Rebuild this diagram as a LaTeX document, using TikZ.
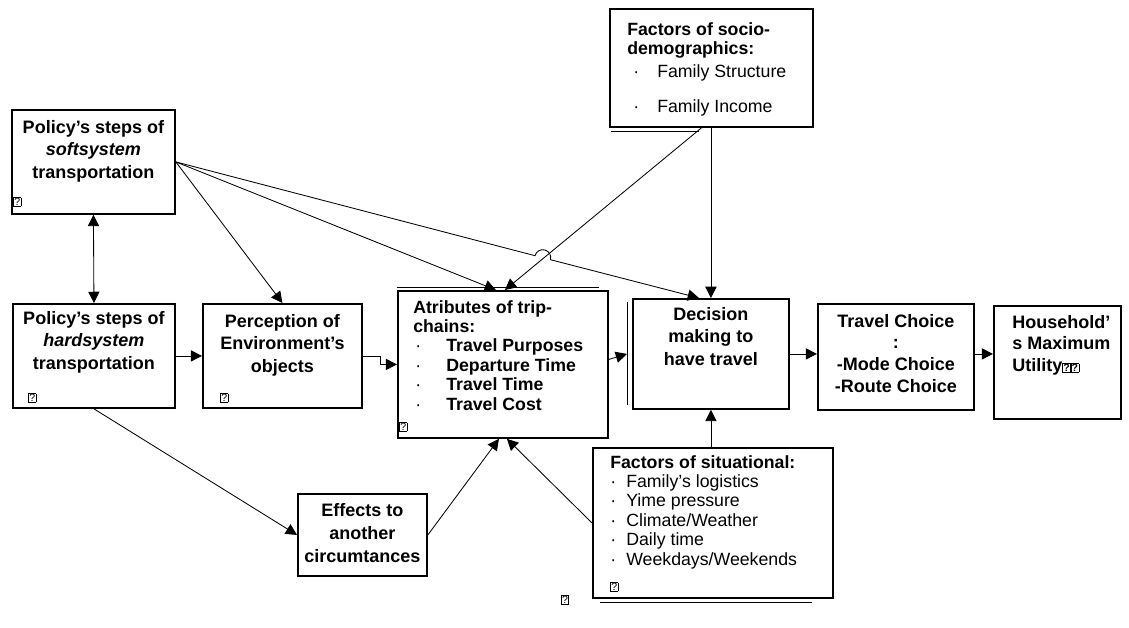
\documentclass[tikz,border=0pt]{standalone}
\usepackage{fontspec}
\setmainfont{Liberation Sans}
\usetikzlibrary{arrows.meta,calc,positioning}

\newcommand\tofu{{\fontsize{7.5}{8}\selectfont\setlength{\fboxsep}{0.3pt}\setlength{\fboxrule}{0.4pt}\fbox{?}}}
\newcommand\dotitem[3]{\hspace{#1}\makebox[#2][l]{\mdseries ·}#3}

\tikzset{
  box/.style={draw, line width=1.3pt, rectangle, anchor=north west, inner sep=0pt},
  heading/.style={font=\fontsize{12.8}{16}\selectfont\bfseries, align=center, anchor=north, inner sep=0pt},
  listing/.style={font=\fontsize{12.6}{13.8}\selectfont, align=left, anchor=north west, inner sep=0pt},
  tofumark/.style={anchor=south west, inner sep=0pt},
  arr/.style={line width=0.6pt, -{Triangle[length=8pt,width=8pt]}},
  shade/.style={line width=0.5pt}
}

\begin{document}
\begin{tikzpicture}[x=0.025cm, y=-0.025cm]
  \useasboundingbox (0,0) rectangle (1129,628);

  \node[box, minimum width=4.075cm, minimum height=2.6cm] (softsys) at (11,109) {};
  \node[box, minimum width=4.05cm, minimum height=2.6cm] (hardsys) at (12,303) {};
  \node[box, minimum width=3.975cm, minimum height=2.6cm] (percept) at (202,303) {};
  \node[box, minimum width=5.25cm, minimum height=3.675cm] (attrib) at (397,290) {};
  \node[box, minimum width=3.9cm, minimum height=2.75cm] (decision) at (632,298) {};
  \node[box, minimum width=3.9cm, minimum height=2.65cm] (choice) at (817,303) {};
  \node[box, minimum width=3.175cm, minimum height=2.825cm] (utility) at (993,305) {};
  \node[box, minimum width=5.075cm, minimum height=2.95cm] (socio) at (609,8) {};
  \node[box, minimum width=6cm, minimum height=3.75cm] (situ) at (592,447) {};
  \node[box, minimum width=3.225cm, minimum height=2.05cm] (effects) at (297,493) {};

  \node[heading] (softsys-text) at ($(softsys.north)+(0,11)$) {Policy’s steps of\\\textit{softsystem}\\transportation};
  \node[heading] (hardsys-text) at ($(hardsys.north)+(0,8)$) {Policy’s steps of\\\textit{hardsystem}\\transportation};
  \node[heading] (percept-text) at ($(percept.north)+(0,11)$) {Perception of\\Environment’s\\objects};
  \node[heading] (decision-text) at ($(decision.north)+(0,9)$) {Decision\\making to\\have travel};
  \node[heading, font=\fontsize{12.8}{15.4}\selectfont\bfseries] (choice-text) at ($(choice.north)+(0,11)$) {Travel Choice\\:\\-Mode Choice\\-Route Choice};
  \node[heading, align=left, anchor=north west, font=\fontsize{12.8}{15.4}\selectfont\bfseries] (utility-text) at ($(utility.north west)+(19,10)$) {Household’\\s Maximum\\Utility\tofu\tofu};
  \node[heading, font=\fontsize{12.8}{16.3}\selectfont\bfseries] (effects-text) at ($(effects.north)+(0,10)$) {Effects to\\another\\circumtances};
  \node[listing, font=\fontsize{12.6}{13.8}\selectfont\bfseries] (attrib-text) at ($(attrib.north west)+(16,10)$) {Atributes of trip-\\chains:\\\dotitem{0.05cm}{0.775cm}{Travel Purposes}\\\dotitem{0.05cm}{0.775cm}{Departure Time}\\\dotitem{0.05cm}{0.775cm}{Travel Time}\\\dotitem{0.05cm}{0.775cm}{Travel Cost}};
  \node[listing] (socio-text) at ($(socio.north west)+(18,14)$) {\textbf{Factors of socio-}\\\textbf{demographics:}\\[0.08cm]\dotitem{0.15cm}{0.6cm}{Family Structure}\\[0.4cm]\dotitem{0.15cm}{0.6cm}{Family Income}};
  \node[listing] (situ-text) at ($(situ.north west)+(18,8)$) {\textbf{Factors of situational:}\\\dotitem{0cm}{0.4cm}{Family’s logistics}\\\dotitem{0cm}{0.4cm}{Yime pressure}\\\dotitem{0cm}{0.4cm}{Climate/Weather}\\\dotitem{0cm}{0.4cm}{Daily time}\\\dotitem{0cm}{0.4cm}{Weekdays/Weekends}};

  \node[tofumark] (softsys-mark) at ($(softsys.south west)+(2,-8)$) {\tofu};
  \node[tofumark] (hardsys-mark) at ($(hardsys.south west)+(16,-6)$) {\tofu};
  \node[tofumark] (percept-mark) at ($(percept.south west)+(18,-6)$) {\tofu};
  \node[tofumark] (attrib-mark) at ($(attrib.south west)+(2,-7)$) {\tofu};
  \node[tofumark] (situ-mark) at ($(situ.south west)+(18,-7)$) {\tofu};
  \node[inner sep=0pt] (page-mark) at (565,600) {\tofu};

  \draw[shade] ($(attrib.north west)+(0,-2.5)$) -- ++(202,0);
  \draw[shade] ($(decision.north west)+(-5,4)$) -- ++(0,103);
  \draw[shade] ($(situ.south west)+(8,3)$) -- ++(212,0);
  \draw[shade] ($(socio.south west)+(2,3)$) -- ++(88,0);

  \coordinate (hop) at (535,255.7);
  \draw[arr, {Triangle[length=8pt,width=8pt]}-{Triangle[length=8pt,width=8pt]}] (softsys.south) -- (hardsys.north);
  \draw[arr] (softsys.east) -- (percept.north);
  \draw[arr] (softsys.east) -- ($(attrib.north)+(-7,0)$);
  \draw[arr] (softsys.east) -- (hop) arc[start angle=-165.5, end angle=14.5, radius=8] -- ($(decision.north)+(-12,0)$);
  \draw[arr] ($(socio.south)+(-10,0)$) -- ($(attrib.north)+(2,0)$);
  \draw[arr] (decision.north |- socio.south) -- (decision.north);
  \draw[arr] (hardsys.east) -- (percept.west);
  \draw[arr] (percept.east) -- ++(18,0) |- (attrib.west);
  \draw[arr] ($(attrib.east)+(0,-5)$) -- ($(decision.west)+(-5,0)$);
  \draw[arr] (decision.east) -- (decision.east -| choice.west);
  \draw[arr] (choice.east |- decision.east) -- (utility.west |- decision.east);
  \draw[arr] (hardsys.south) -- (effects.west);
  \draw[arr] (effects.east) -- ($(attrib.south)+(-4,0)$);
  \draw[arr] (situ.west) -- ($(attrib.south)+(4,0)$);
  \draw[arr] (decision.south |- situ.north) -- (decision.south);
\end{tikzpicture}
\end{document}
